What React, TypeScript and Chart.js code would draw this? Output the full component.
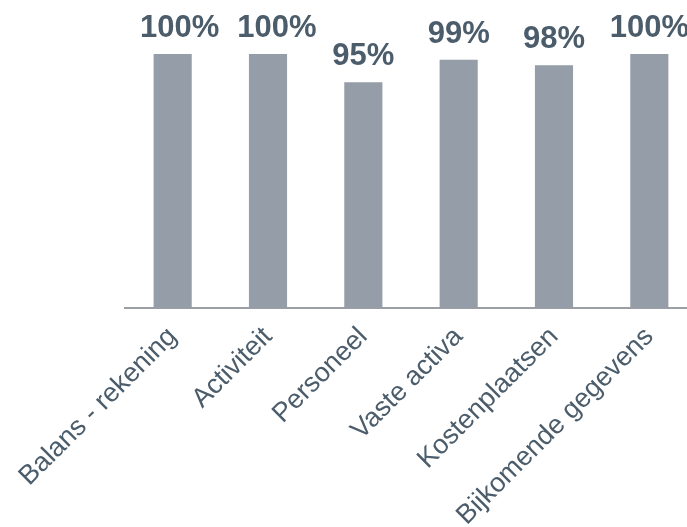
import React, { useEffect, useRef } from "react";
import { Chart, registerables } from "chart.js";

Chart.register(...registerables);

const categories = [
  "Balans - rekening",
  "Activiteit",
  "Personeel",
  "Vaste activa",
  "Kostenplaatsen",
  "Bijkomende gegevens",
];
const values = [100, 100, 95, 99, 98, 100];
const valueLabels = ["100%", "100%", "95%", "99%", "98%", "100%"];

const FONT = "'Liberation Sans', Arial, Helvetica, sans-serif";
const TEXT = "#4B5C6B";
const BAR = "#959DA8";
// small horizontal nudges of the value labels, as in the original layout
const LABEL_NUDGE = [7, 9, 0, 0, 0, 0];

const valueLabelPlugin = {
  id: "valueLabels",
  afterDatasetsDraw(chart: any) {
    const ctx = chart.ctx;
    const meta = chart.getDatasetMeta(0);
    ctx.save();
    ctx.font = `bold 31px ${FONT}`;
    ctx.fillStyle = TEXT;
    ctx.textAlign = "center";
    ctx.textBaseline = "alphabetic";
    meta.data.forEach((el: any, i: number) => {
      ctx.fillText(valueLabels[i], el.x + LABEL_NUDGE[i], el.y - 17);
    });
    ctx.restore();
  },
};

export default function App() {
  const ref = useRef<HTMLCanvasElement | null>(null);
  useEffect(() => {
    if (!ref.current) return;
    const chart = new Chart(ref.current, {
      type: "bar",
      data: {
        labels: categories,
        datasets: [
          {
            data: values,
            backgroundColor: BAR,
            barPercentage: 0.4,
            categoryPercentage: 1,
          },
        ],
      },
      options: {
        animation: false,
        responsive: false,
        maintainAspectRatio: false,
        layout: { padding: { top: 54, left: 125, right: 23, bottom: 0 } },
        plugins: { legend: { display: false }, tooltip: { enabled: false } },
        scales: {
          y: { display: false, min: 55, max: 100 },
          x: {
            grid: { display: false, drawTicks: false },
            border: { display: true, color: "#9B9FA4", width: 2 },
            ticks: {
              minRotation: 45,
              maxRotation: 45,
              color: TEXT,
              padding: 13,
              font: { family: FONT, size: 27 },
              autoSkip: false,
            },
            afterFit(scale: any) {
              scale.height = 219;
            },
          },
        },
      },
      plugins: [valueLabelPlugin],
    });
    return () => chart.destroy();
  }, []);
  return (
    <div
      style={{
        position: "fixed",
        left: 0,
        top: 0,
        width: 687,
        height: 527,
        overflow: "hidden",
        background: "#fff",
      }}
    >
      <canvas ref={ref} width={720} height={527} style={{ display: "block" }} />
    </div>
  );
}
